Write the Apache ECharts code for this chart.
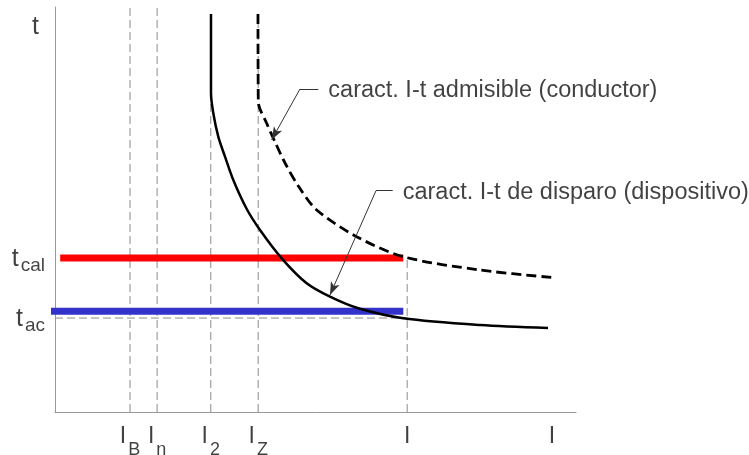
<!DOCTYPE html>
<html>
<head>
<meta charset="utf-8">
<script src="https://cdn.jsdelivr.net/npm/echarts@6/dist/echarts.min.js"></script>
<style>
  html, body { margin: 0; padding: 0; background: #fff; }
  #chart { width: 749px; height: 455px; }
</style>
</head>
<body>
<div id="chart"></div>
<script>
// schematic units: current 0..100 along x, time 0..100 along y
var currentNames = ['B', 'n', '2', 'Z', '', ''];
var currentValues = [14.4, 19.6, 29.9, 39.0, 67.6, 95.4];
var guideTops = [100, 100, 98.3, 98.3, 38.0, null];

var tCal = 38.0;
var tAcBar = 24.9;
var tAcGuide = 23.2;
var barStart = { cal: 1.0, ac: -1.5 };
var barEnd = 66.85;

var tripCurve = [
	[29.94, 98.27], [29.94, 78.77], [30.38, 73.83], [31.34, 67.98], [32.63, 63.04],
	[34.22, 57.28], [36.8, 50.12], [39.35, 44.94], [43.51, 37.95], [48.31, 31.78],
	[52.78, 28.47], [58.22, 25.60], [66.85, 23.14], [81.57, 21.48], [94.63, 20.74]
];
var admCurve = [
	[38.96, 98.27], [39.02, 76.62], [40.63, 71.28], [42.23, 66.67], [44.15, 61.48],
	[46.8, 55.6], [50.23, 49.88], [57.91, 43.28], [66.85, 38.35], [81.57, 35.06],
	[95.97, 33.16]
];

var notes = [
	{ text: 'caract. I-t admisible (conductor)', anchor: [50.54, 79.75], elbow: [47.02, 79.75], tip: [41.59, 67.2] },
	{ text: 'caract. I-t de disparo (dispositivo)', anchor: [64.82, 54.64], elbow: [61.61, 54.64], tip: [52.78, 28.89] }
];

var font = 'Liberation Sans, Arial, sans-serif';
var chart = echarts.init(document.getElementById('chart'));

var series = [];

// vertical guide lines
currentValues.forEach(function(x, i) {
	if (guideTops[i] == null) return;
	series.push({
		type: 'line', symbol: 'none', silent: true, z: 1,
		lineStyle: { color: '#8c8c8c', width: 1, type: [8, 4] },
		data: [[x, 0], [x, guideTops[i]]]
	});
});
// horizontal guide at t_ac
series.push({
	type: 'line', symbol: 'none', silent: true, z: 1,
	lineStyle: { color: '#8c8c8c', width: 1, type: [8, 4] },
	data: [[0, tAcGuide], [currentValues[4], tAcGuide]]
});

// red and blue bars
series.push({
	type: 'line', symbol: 'none', z: 3, clip: false,
	lineStyle: { color: '#ff0000', width: 7, cap: 'butt' },
	data: [[barStart.cal, tCal], [barEnd, tCal]]
});
series.push({
	type: 'line', symbol: 'none', z: 3, clip: false,
	lineStyle: { color: '#3333cc', width: 7, cap: 'butt' },
	data: [[barStart.ac, tAcBar], [barEnd, tAcBar]]
});

// characteristics
series.push({
	type: 'line', symbol: 'none', smooth: 0.3, z: 4,
	lineStyle: { color: '#000', width: 2.5 },
	data: tripCurve
});
series.push({
	type: 'line', symbol: 'none', smooth: 0.3, z: 4,
	lineStyle: { color: '#000', width: 2.8, type: [10, 5] },
	data: admCurve
});

// annotation leaders
notes.forEach(function(n) {
	series.push({
		type: 'scatter', symbolSize: 0, z: 5, silent: true,
		data: [n.anchor],
		label: {
			show: true, position: 'right', distance: 10, offset: [0, 2],
			formatter: n.text, color: '#111', fontSize: 23.5, fontFamily: font
		},
		markLine: {
			silent: true, animation: false,
			symbol: ['none', 'arrow'], symbolSize: [7, 13],
			label: { show: false },
			lineStyle: { color: '#333', width: 1, type: 'solid' },
			data: [
				[{ coord: n.anchor, symbol: 'none' }, { coord: n.elbow, symbol: 'none' }],
				[{ coord: n.elbow }, { coord: n.tip }]
			]
		}
	});
});

// current labels on x axis
var subRich = {
	m: { fontSize: 23, color: '#111', fontFamily: font, verticalAlign: 'top', lineHeight: 34 },
	s: { fontSize: 18, color: '#111', fontFamily: font, verticalAlign: 'bottom', lineHeight: 34, padding: [0, 0, 0, 2] }
};
series.push({
	type: 'scatter', symbolSize: 0, silent: true, clip: false,
	data: currentValues.map(function(x, i) { return { value: [x, 0], name: currentNames[i] }; }),
	label: {
		show: true, position: 'bottom', distance: 13,
		formatter: function(p) { return p.name ? '{m|I}{s|' + p.name + '}' : '{m|I}'; },
		rich: subRich
	}
});

// time labels
series.push({
	type: 'scatter', symbolSize: 0, silent: true, clip: false,
	data: [
		{ value: [0, tCal], name: 'cal' },
		{ value: [0, tAcGuide], name: 'ac' }
	],
	label: {
		show: true, position: 'left', distance: 10, offset: [0, 3],
		formatter: function(p) { return '{m|t}{s|' + p.name + '}'; },
		rich: {
			m: { fontSize: 25, color: '#111', fontFamily: font, verticalAlign: 'top', lineHeight: 29 },
			s: { fontSize: 19, color: '#111', fontFamily: font, verticalAlign: 'bottom', lineHeight: 29, padding: [0, 0, 0, 2] }
		}
	}
});
series.push({
	type: 'scatter', symbolSize: 0, silent: true, clip: false,
	data: [[0, 100]],
	label: {
		show: true, position: 'left', distance: 16, offset: [0, 20],
		formatter: 't', color: '#111', fontSize: 25, fontFamily: font
	}
});

chart.setOption({
	animation: false,
	grid: { left: 55, right: 173, top: 7, bottom: 43 },
	xAxis: {
		type: 'value', min: 0, max: 100,
		axisLine: { show: true, onZero: false, lineStyle: { color: '#999', width: 1 } },
		axisTick: { show: false }, axisLabel: { show: false }, splitLine: { show: false }
	},
	yAxis: {
		type: 'value', min: 0, max: 100,
		axisLine: { show: true, onZero: false, lineStyle: { color: '#999', width: 1 } },
		axisTick: { show: false }, axisLabel: { show: false }, splitLine: { show: false }
	},
	series: series
});
</script>
</body>
</html>
